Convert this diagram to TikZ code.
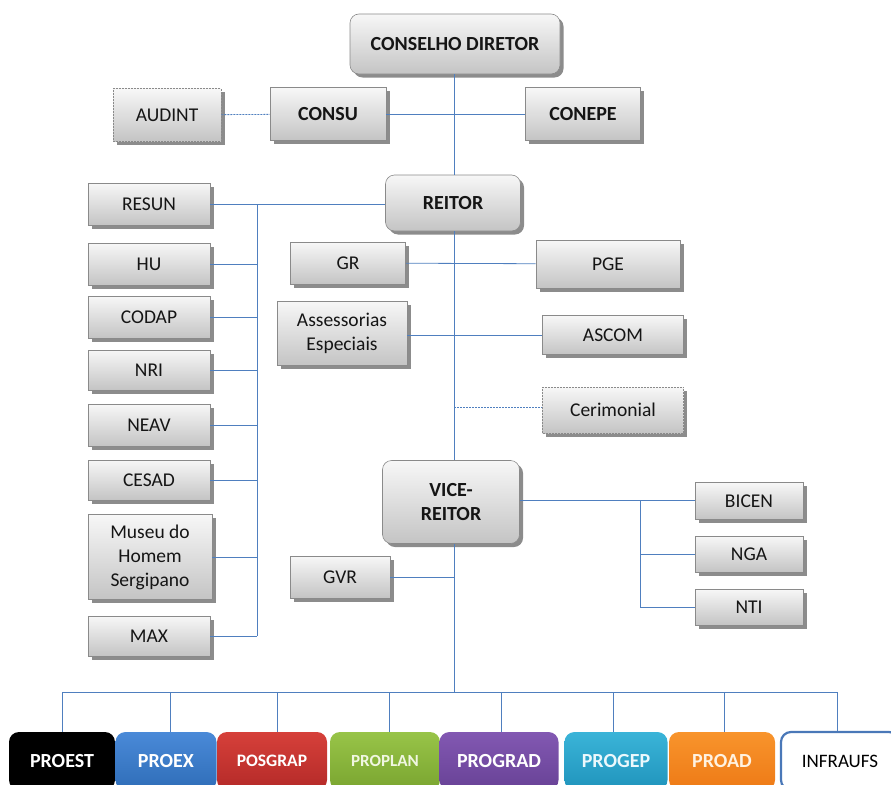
\documentclass[tikz,border=0pt]{standalone}
\usepackage{fontspec}
\setmainfont{Carlito}
\usetikzlibrary{shadows}
\definecolor{linkc}{HTML}{4F7FBF}
\definecolor{boxline}{HTML}{8A8A8A}
\definecolor{gtop}{HTML}{F7F7F7}
\definecolor{gbot}{HTML}{C4C4C4}
\definecolor{txt}{HTML}{151515}
\tikzset{
  gbox/.style={rectangle, draw=boxline, line width=0.6pt, top color=gtop, bottom color=gbot,
    drop shadow={shadow xshift=3.5pt, shadow yshift=-3.5pt, fill=black, opacity=0.45},
    text=txt, font=\fontsize{19.5}{24}\selectfont, inner sep=0pt, align=center},
  bbox/.style={gbox, font=\fontsize{20}{24}\selectfont\bfseries},
  rbox/.style={bbox, rounded corners=9pt},
  dbox/.style={gbox, dash pattern=on 2pt off 1pt},
  link/.style={draw=linkc, line width=0.8pt},
  dlink/.style={link, dash pattern=on 2pt off 1pt},
  unit/.style={rectangle, rounded corners=10pt, inner sep=0pt, minimum height=58pt,
    text=white, font=\fontsize{20}{20}\selectfont\bfseries},
}
\begin{document}
\begin{tikzpicture}[x=1pt,y=-1pt]
\useasboundingbox (0,0) rectangle (891,784);
\clip (0,0) rectangle (891,784);
% top
\node[rbox, minimum width=210pt, minimum height=60pt] (cd) at (455,44) {CONSELHO DIRETOR};
\node[dbox, minimum width=108pt, minimum height=53pt] (audint) at (167,115) {AUDINT};
\node[bbox, minimum width=116pt, minimum height=53pt] (consu) at (328,114) {CONSU};
\node[bbox, minimum width=115pt, minimum height=53pt] (conepe) at (583,114) {CONEPE};
\node[rbox, minimum width=135pt, minimum height=56pt] (reitor) at (453,203) {REITOR};
% left column
\node[gbox, minimum width=122pt, minimum height=42pt] (resun) at (149,204) {RESUN};
\node[gbox, minimum width=122pt, minimum height=42pt] (hu) at (149,264) {HU};
\node[gbox, minimum width=122pt, minimum height=42pt] (codap) at (149,317) {CODAP};
\node[gbox, minimum width=122pt, minimum height=40pt] (nri) at (149,370) {NRI};
\node[gbox, minimum width=122pt, minimum height=42pt] (neav) at (149,425) {NEAV};
\node[gbox, minimum width=122pt, minimum height=40pt] (cesad) at (149,480) {CESAD};
\node[gbox, minimum width=124pt, minimum height=85pt] (museu) at (150,557) {Museu do\\Homem\\Sergipano};
\node[gbox, minimum width=122pt, minimum height=40pt] (max) at (149,636) {MAX};
% middle
\node[gbox, minimum width=115pt, minimum height=42pt] (gr) at (348,263) {GR};
\node[gbox, minimum width=144pt, minimum height=48pt] (pge) at (608,264) {PGE};
\node[gbox, minimum width=130pt, minimum height=64pt] (assess) at (342,333) {Assessorias\\Especiais};
\node[gbox, minimum width=141pt, minimum height=39pt] (ascom) at (613,335) {ASCOM};
\node[dbox, minimum width=141pt, minimum height=46pt] (cerim) at (613,410) {Cerimonial};
\node[rbox, minimum width=137pt, minimum height=83pt] (vice) at (451,502) {VICE-\\REITOR};
\node[gbox, minimum width=108pt, minimum height=37pt] (bicen) at (749,501) {BICEN};
\node[gbox, minimum width=108pt, minimum height=36pt] (nga) at (749,554) {NGA};
\node[gbox, minimum width=108pt, minimum height=36pt] (nti) at (749,607) {NTI};
\node[gbox, minimum width=100pt, minimum height=42pt] (gvr) at (340,577) {GVR};
% bottom units
\node[unit, minimum width=106pt, fill=black] (proest) at (62,761) {PROEST};
\node[unit, minimum width=101pt, top color={rgb,255:red,74;green,138;blue,216}, bottom color={rgb,255:red,47;green,109;blue,184}] (proex) at (166,761) {PROEX};
\node[unit, minimum width=110pt, top color={rgb,255:red,214;green,64;blue,58}, bottom color={rgb,255:red,180;green,42;blue,40},
  font=\fontsize{17.5}{20}\selectfont\bfseries] (posgrap) at (272,761) {POSGRAP};
\node[unit, minimum width=110pt, top color={rgb,255:red,152;green,196;blue,72}, bottom color={rgb,255:red,122;green,165;blue,48},
  text={rgb,255:red,240;green,246;blue,225}, font=\fontsize{17}{20}\selectfont\bfseries] (proplan) at (385,761) {PROPLAN};
\node[unit, minimum width=119pt, top color={rgb,255:red,130;green,88;blue,178}, bottom color={rgb,255:red,104;green,66;blue,150}] (prograd) at (499,761) {PROGRAD};
\node[unit, minimum width=103pt, top color={rgb,255:red,58;green,180;blue,216}, bottom color={rgb,255:red,32;green,148;blue,188},
  text={rgb,255:red,235;green,248;blue,252}] (progep) at (616,761) {PROGEP};
\node[unit, minimum width=106pt, top color={rgb,255:red,248;green,148;blue,44}, bottom color={rgb,255:red,238;green,122;blue,22},
  text={rgb,255:red,255;green,242;blue,225}] (proad) at (722,761) {PROAD};
\node[unit, minimum width=118pt, fill=white, draw={rgb,255:red,74;green,120;blue,184}, line width=2.2pt,
  text=black, font=\fontsize{19}{20}\selectfont] (infra) at (840,761) {INFRAUFS};
% connectors
\coordinate (t1) at (454,113);
\coordinate (t2) at (454,263);
\coordinate (t3) at (454,335);
\coordinate (t4) at (454,407);
\coordinate (t5) at (454,577);
\coordinate (t6) at (454,692);
\draw[link] (cd.south -| t1) -- (reitor.north -| t1);
\draw[link] (reitor.south -| t1) -- (vice.north -| t1);
\draw[link] (vice.south -| t1) -- (t6);
\draw[link] (consu) -- (conepe);
\draw[dlink] (audint) -- (consu);
\draw[link] (gr) -- (pge);
\draw[link] (assess.east |- t3) -- (ascom.west |- t3);
\draw[dlink] (t4) -- (cerim.west |- t4);
\draw[link] (gvr) -- (t5);
% left bus
\coordinate (lb1) at (257,204);
\coordinate (lb2) at (257,636);
\draw[link] (resun) -- (reitor.west |- resun);
\draw[link] (lb1) -- (lb2);
\foreach \n in {hu,codap,nri,neav,cesad,museu,max} {
  \draw[link] (\n.east) -- (\n.east -| lb1);
}
% right bus
\coordinate (rb1) at (640,500);
\coordinate (rb2) at (640,607);
\draw[link] (vice.east |- rb1) -- (bicen.west |- rb1);
\draw[link] (rb1) -- (rb2);
\draw[link] (nga.west) -- (nga.west -| rb1);
\draw[link] (nti.west) -- (nti.west -| rb1);
% bottom bus
\coordinate (bb1) at (62,692);
\coordinate (bb2) at (837,692);
\draw[link] (bb1) -- (bb2);
\foreach \n/\x in {proest/62,proex/170,posgrap/277,proplan/389,prograd/501,progep/613,proad/724,infra/837} {
  \draw[link] (\x,692) -- (\n.north -| \x,0);
}
\end{tikzpicture}
\end{document}
